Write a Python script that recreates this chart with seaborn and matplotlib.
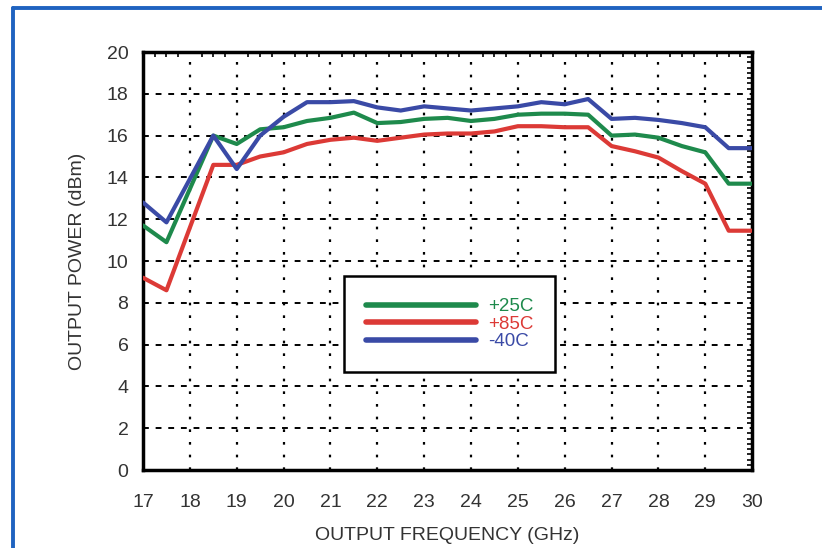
import numpy as np
import pandas as pd
import matplotlib
matplotlib.use('Agg')
import matplotlib.pyplot as plt
from matplotlib.lines import Line2D
from matplotlib.ticker import MultipleLocator
import seaborn as sns

# values
freq = [17, 17.5, 18.5, 19, 19.5, 20, 20.5, 21, 21.5, 22, 22.5, 23, 23.5,
        24, 24.5, 25, 25.5, 26, 26.5, 27, 27.5, 28, 28.5, 29, 29.5, 30]
p_25c = [11.7, 10.9, 16.0, 15.6, 16.3, 16.4, 16.7, 16.85, 17.1, 16.6, 16.65, 16.8, 16.85,
         16.7, 16.8, 17.0, 17.05, 17.05, 17.0, 16.0, 16.05, 15.9, 15.5, 15.2, 13.7, 13.7]
p_85c = [9.2, 8.6, 14.6, 14.6, 15.0, 15.2, 15.6, 15.8, 15.9, 15.75, 15.9, 16.05, 16.1,
         16.1, 16.2, 16.45, 16.45, 16.4, 16.4, 15.5, 15.25, 14.95, 14.3, 13.7, 11.45, 11.45]
p_m40c = [12.8, 11.85, 16.0, 14.4, 16.0, 16.9, 17.6, 17.6, 17.65, 17.35, 17.2, 17.4, 17.3,
          17.2, 17.3, 17.4, 17.6, 17.5, 17.75, 16.8, 16.85, 16.75, 16.6, 16.4, 15.4, 15.4]
temps = ['+25C', '+85C', '-40C']
colors = {'+25C': '#1e8a4c', '+85C': '#dc3a36', '-40C': '#3a4aa6'}

df = pd.concat([
    pd.DataFrame({'freq': freq, 'power': p_25c, 'temp': '+25C'}),
    pd.DataFrame({'freq': freq, 'power': p_85c, 'temp': '+85C'}),
    pd.DataFrame({'freq': freq, 'power': p_m40c, 'temp': '-40C'}),
])

sns.set_style('white')
plt.rcParams['font.family'] = ['Liberation Sans', 'DejaVu Sans']
txt = '#333333'

fig = plt.figure(figsize=(8.22, 5.48), dpi=100)
ax = fig.add_axes([0.174, 0.1423, 0.741, 0.7628])

# grid first so the curves sit on top
for x in range(18, 30):
    ax.axvline(x, color='black', lw=1.6, ls=(0, (1.2, 4.5)), zorder=1)
for y in range(2, 20, 2):
    ax.axhline(y, color='black', lw=1.4, ls=(0, (3, 3.5)), zorder=1)

sns.lineplot(data=df, x='freq', y='power', hue='temp', hue_order=temps,
             palette=colors, lw=3, ax=ax, legend=False, zorder=3, sort=False)

ax.set_xlim(17, 30)
ax.set_ylim(0, 20)
ax.xaxis.set_major_locator(MultipleLocator(1))
ax.yaxis.set_major_locator(MultipleLocator(2))
ax.xaxis.set_minor_locator(MultipleLocator(0.25))
ax.yaxis.set_minor_locator(MultipleLocator(0.25))
ax.tick_params(which='both', direction='in', top=True, right=True, color='black')
ax.tick_params(which='major', length=0, labelsize=14, labelcolor=txt)
ax.tick_params(axis='x', which='major', pad=17)
ax.tick_params(axis='y', which='major', pad=10.5)
ax.tick_params(which='minor', length=3.5, width=1.2)
for s in ax.spines.values():
    s.set_color('black')
    s.set_linewidth(2.5)

ax.set_xlabel('OUTPUT FREQUENCY (GHz)', fontsize=14, color=txt, labelpad=12)
ax.set_ylabel('OUTPUT POWER (dBm)', fontsize=14, color=txt, labelpad=15)

handles = [Line2D([0], [0], color=colors[t], lw=4) for t in temps]
leg = ax.legend(handles, temps, loc='upper left', bbox_to_anchor=(0.330, 0.463),
                frameon=True, fancybox=False, edgecolor='black', framealpha=1,
                fontsize=13.5, handlelength=5.9, handletextpad=0.64,
                borderpad=1.15, labelspacing=0.02, labelcolor='linecolor',
                borderaxespad=0)
leg.get_frame().set_linewidth(1.8)
leg.set_zorder(5)

# blue frame round the figure (only left and top edges are visible)
fig.add_artist(Line2D([13 / 822, 13 / 822], [0, 1 - 8 / 548], color='#1f63c0', lw=2.8))
fig.add_artist(Line2D([13 / 822, 1], [1 - 8 / 548, 1 - 8 / 548], color='#1f63c0', lw=2.8))

fig.savefig('out.png', dpi=100)
